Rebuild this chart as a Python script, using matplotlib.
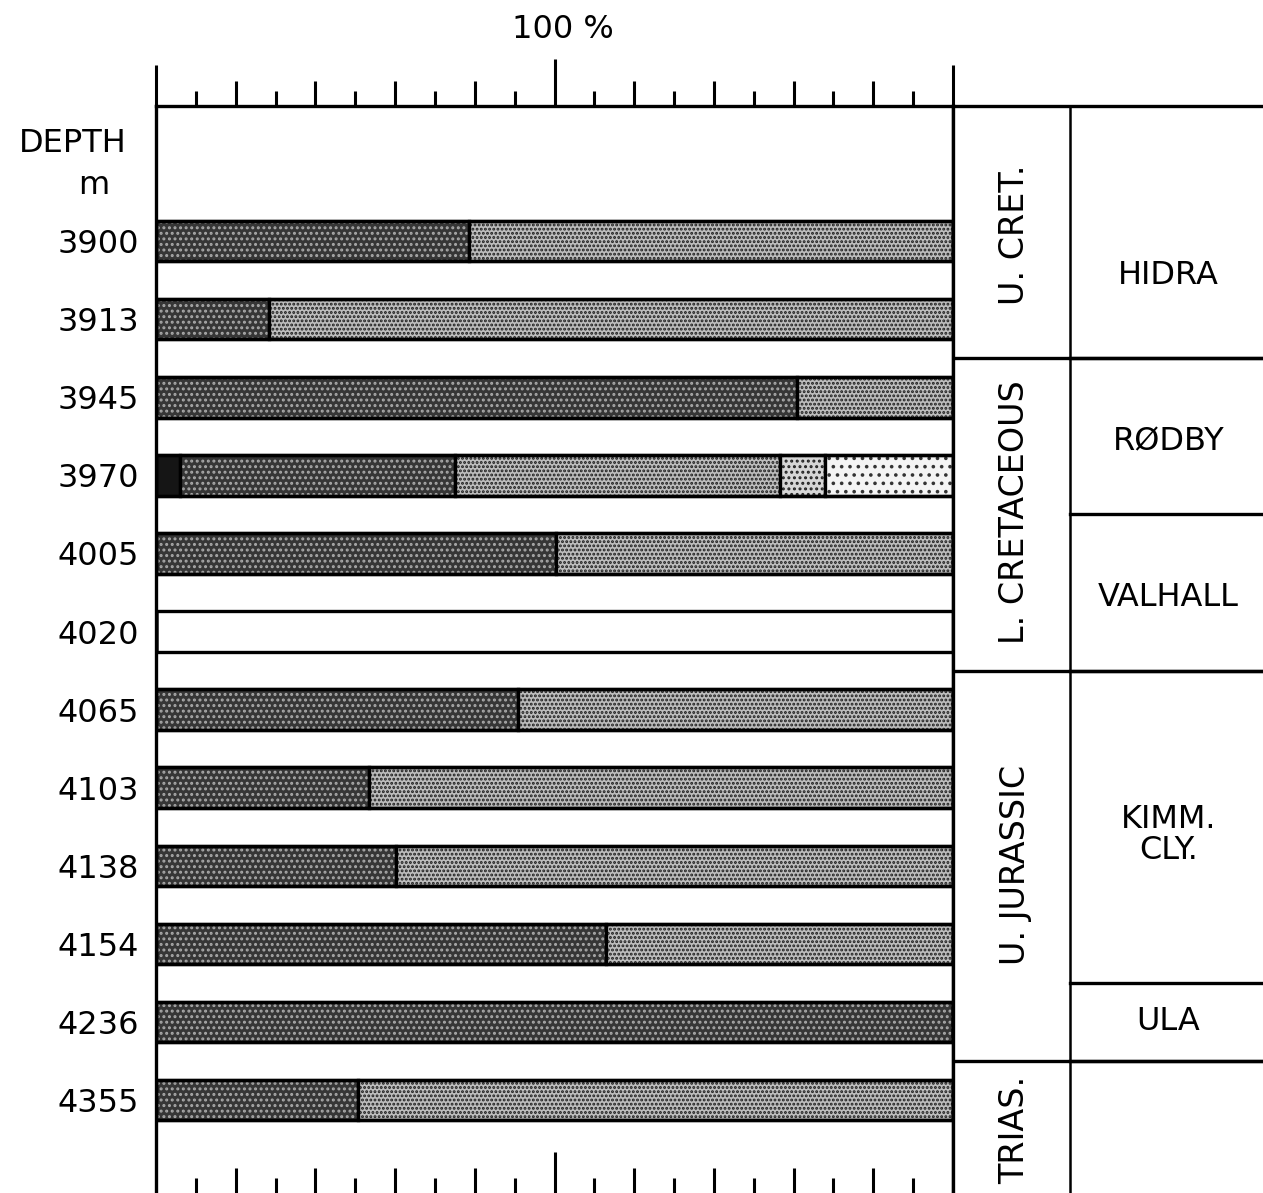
import numpy as np
import matplotlib.pyplot as plt

plt.rcParams.update({
    "font.family": "DejaVu Sans",
    "hatch.linewidth": 1.4,
})

"""
Data: percentage of each component per sample
"""
depths = ['3900', '3913', '3945', '3970', '4005', '4020',
          '4065', '4103', '4138', '4154', '4236', '4355']
black = [0, 0, 0, 3.0, 0, 0, 0, 0, 0, 0, 0, 0]
dark = [39.3, 14.2, 80.4, 34.5, 50.2, 0, 45.4, 26.7, 30.1, 56.5, 100, 25.3]
light = [60.7, 85.8, 19.6, 40.8, 49.8, 0, 54.6, 73.3, 69.9, 43.5, 0, 74.7]
medium = [0, 0, 0, 5.6, 0, 0, 0, 0, 0, 0, 0, 0]
sparse = [0, 0, 0, 16.1, 0, 0, 0, 0, 0, 0, 0, 0]

# stratigraphy (boundaries in sample-row units)
systems = ['U. CRET.', 'L. CRETACEOUS', 'U. JURASSIC', 'TRIAS.']
system_mid = [-0.08, 3.47, 7.99, 11.38]
system_bounds = [1.5, 5.5, 10.5]
formations = ['HIDRA', 'RØDBY', 'VALHALL', 'KIMM.\nCLY.', 'ULA']
formation_mid = [0.435, 2.57, 4.57, 7.61, 10.0]
formation_bounds = [1.5, 3.5, 5.5, 9.5, 10.5]

W, H = 1263, 1193
fig = plt.figure(figsize=(W / 100, H / 100), dpi=100)
ax = fig.add_axes([156 / W, 0, 797 / W, (H - 106) / H])
ax2 = fig.add_axes([953 / W, 0, 310 / W, (H - 106) / H], sharey=ax)

y = np.arange(len(depths))
bh = 0.52
lw = 2.4

segments = [
    (black, '#151515', '#151515', ''),
    (dark, '#363636', '#a8a8a8', '...'),
    (light, '#bdbdbd', '#1e1e1e', '....'),
    (medium, '#d6d6d6', '#222222', '...'),
    (sparse, '#f4f4f4', '#333333', '..'),
]
left = np.zeros(len(depths))
for vals, face, hcol, hatch in segments:
    vals = np.array(vals)
    ax.barh(y, vals, left=left, height=bh, color=face, edgecolor=hcol,
            linewidth=0, hatch=hatch)
    ax.barh(y, vals, left=left, height=bh, facecolor='none',
            edgecolor='black', linewidth=lw)
    left = left + vals
# full-width outline for every sample row
ax.barh(y, [100] * len(depths), height=bh, facecolor='none',
        edgecolor='black', linewidth=lw)

ax.set_xlim(0, 100)
ax.set_ylim(12.19, -1.73)
ax.set_xticks([])
ax.set_yticks(y, depths)
ax.tick_params(axis='y', length=0, pad=12, labelsize=23)
for s in ['top', 'left', 'right']:
    ax.spines[s].set_linewidth(lw)
ax.spines['bottom'].set_visible(False)

# scale ticks top and bottom
tr = ax.get_xaxis_transform()
for v in np.arange(0, 101, 5):
    if v % 50 == 0:
        L = 0.038
    elif v % 10 == 0:
        L = 0.023
    else:
        L = 0.014
    top_l = 0.043 if v == 50 else L
    ax.plot([v, v], [1, 1 + top_l], color='black', lw=2.2, transform=tr,
            clip_on=False, solid_capstyle='butt')
    if 0 < v < 100:
        ax.plot([v, v], [0, L], color='black', lw=2.2, transform=tr,
                clip_on=False, solid_capstyle='butt')

# stratigraphic column
ax2.set_xlim(0, 1)
ax2.set_xticks([])
ax2.tick_params(axis='y', left=False, labelleft=False)
ax2.spines['top'].set_linewidth(lw)
ax2.spines['left'].set_linewidth(lw)
ax2.spines['right'].set_visible(False)
ax2.spines['bottom'].set_visible(False)
div = 0.377
ax2.axvline(div, color='black', lw=1.8)
for b in system_bounds:
    ax2.plot([0, 1], [b, b], color='black', lw=lw)
for b in formation_bounds:
    ax2.plot([div, 1], [b, b], color='black', lw=lw)
for name, m in zip(systems, system_mid):
    ax2.text(0.2, m, name, rotation=90, ha='center', va='center', fontsize=24)
for name, m in zip(formations, formation_mid):
    ax2.text(0.695, m, name, ha='center', va='center', fontsize=23,
             linespacing=1.0)

fig.text(73 / W, 1 - 143 / H, 'DEPTH', ha='center', va='center', fontsize=23)
fig.text(94 / W, 1 - 186 / H, 'm', ha='center', va='center', fontsize=23)
fig.text(563 / W, 1 - 29 / H, '100 %', ha='center', va='center', fontsize=23)

fig.savefig('out.png', dpi=100)
